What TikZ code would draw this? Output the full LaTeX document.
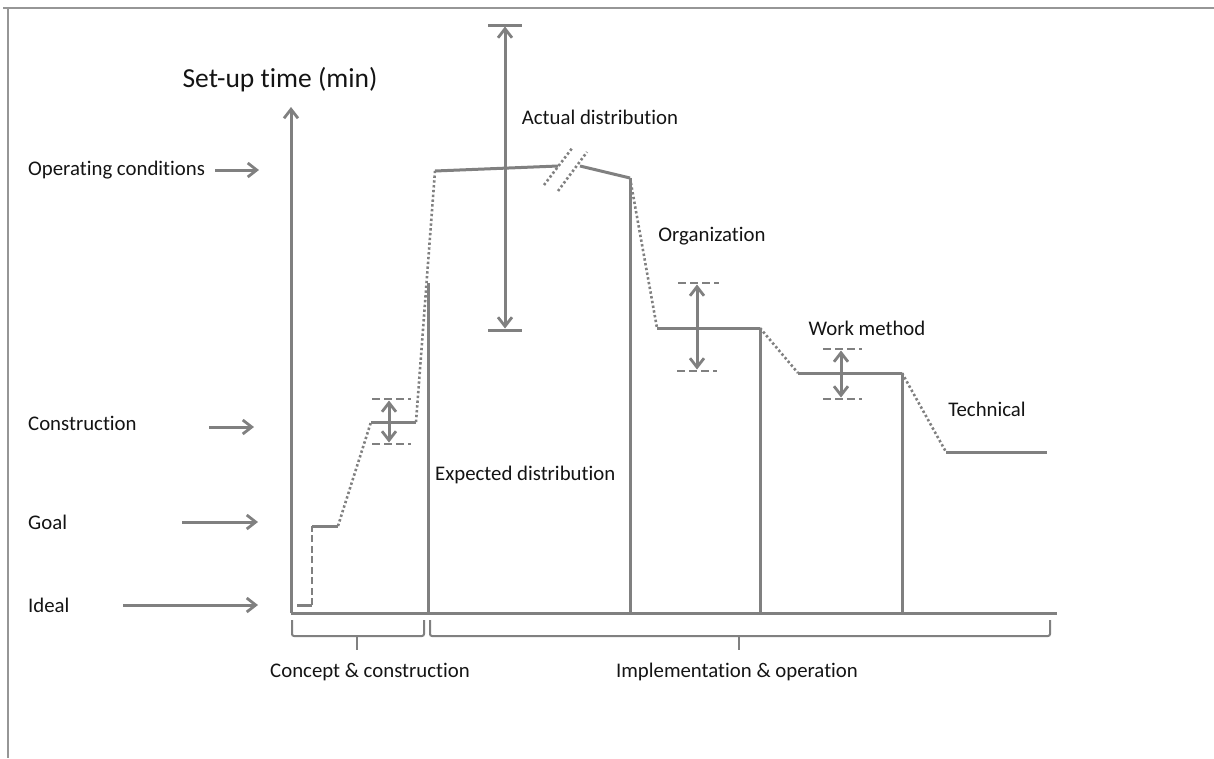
\documentclass[tikz,border=0pt]{standalone}
\usepackage{fontspec}
\setmainfont{Carlito}[Ligatures={NoCommon}]
\usetikzlibrary{arrows.meta}
\definecolor{linegray}{RGB}{128,128,128}
\definecolor{framegray}{RGB}{150,150,150}
\definecolor{textgray}{RGB}{20,20,20}
\begin{document}
\begin{tikzpicture}[x=1pt,y=-1pt,
  line/.style={draw=linegray, line width=3pt},
  dotline/.style={draw=linegray, line width=2.6pt, dash pattern=on 2.4pt off 2.4pt},
  dashline/.style={draw=linegray, line width=2.6pt, dash pattern=on 7pt off 3.5pt},
  barline/.style={draw=linegray, line width=2.6pt, dash pattern=on 8pt off 4pt},
  tipend/.style={-{Straight Barb[length=9pt,width=14pt,line width=2.8pt]}},
  tipboth/.style={{Straight Barb[length=9pt,width=14pt,line width=2.8pt]}-{Straight Barb[length=9pt,width=14pt,line width=2.8pt]}},
  bracket/.style={draw=linegray, line width=2pt, rounded corners=2pt},
  lbl/.style={font=\fontsize{20.8}{23}\selectfont, text=textgray, inner sep=0pt},
]
\useasboundingbox (0,0) rectangle (1214,758);

% outer frame (top and left edges)
\draw[framegray, line width=2pt] (3,8) -- (1214,8);
\draw[framegray, line width=2pt] (8,8) -- (8,758);

% axes
\coordinate (O) at (291,613);
\coordinate (ytop) at (291,107);
\coordinate (xend) at (1057,613);
\draw[line, tipend] (O) -- (ytop);
\draw[line] (O) -- (xend);
\node[lbl, font=\fontsize{27.5}{30}\selectfont] (ylab) at (280,80) {Set-up time (min)};

% level labels with pointers
\node[lbl, anchor=west] (opc) at (28,170) {Operating conditions};
\coordinate (opcA) at (215,170); \coordinate (opcB) at (259,170);
\draw[line, tipend] (opcA) -- (opcB);
\node[lbl, anchor=west] (con) at (28,423) {Construction};
\coordinate (conA) at (209,427); \coordinate (conB) at (254,427);
\draw[line, tipend] (conA) -- (conB);
\node[lbl, anchor=west] (goal) at (28,522) {Goal};
\coordinate (goalA) at (182,522); \coordinate (goalB) at (258,522);
\draw[line, tipend] (goalA) -- (goalB);
\node[lbl, anchor=west] (ideal) at (28,605) {Ideal};
\coordinate (idealA) at (123,605); \coordinate (idealB) at (258,605);
\draw[line, tipend] (idealA) -- (idealB);

% phase boundaries
\draw[line] (428,613) -- (428,283);
\draw[line] (630,613) -- (630,178);
\draw[line] (760,613) -- (760,328);
\draw[line] (902,613) -- (902,373);

% set-up time curve
\coordinate (p1) at (297,605);  \coordinate (p2) at (312,605);
\coordinate (p3) at (312,526);  \coordinate (p4) at (338,526);
\coordinate (p5) at (371,422);  \coordinate (p6) at (416,422);
\coordinate (p7) at (435,171);  \coordinate (p8) at (558,166);
\coordinate (p9) at (580,166);  \coordinate (p10) at (630,178);
\coordinate (p11) at (657,328); \coordinate (p12) at (760,328);
\coordinate (p13) at (798,373); \coordinate (p14) at (902,373);
\coordinate (p15) at (946,452); \coordinate (p16) at (1047,452);
\draw[line] (p1) -- (p2);
\draw[dashline] (p2) -- (p3);
\draw[line] (p3) -- (p4);
\draw[dotline] (p4) -- (p5);
\draw[line] (p5) -- (p6);
\draw[dotline] (p6) -- (p7);
\draw[line] (p7) -- (p8);
\draw[line] (p9) -- (p10);
\draw[dotline] (p10) -- (p11);
\draw[line] (p11) -- (p12);
\draw[dotline] (p12) -- (p13);
\draw[line] (p13) -- (p14);
\draw[dotline] (p14) -- (p15);
\draw[line] (p15) -- (p16);
% axis break marks
\draw[dotline] (544,185) -- (573,147);
\draw[dotline] (558,191) -- (587,152);

% actual distribution range
\coordinate (aT) at (505,25); \coordinate (aB) at (505,330);
\draw[line] (488,25) -- (522,25);
\draw[line] (488,330) -- (522,330);
\draw[line, tipboth] ([yshift=-1.5pt]aT) -- ([yshift=1.5pt]aB);

% construction spread
\coordinate (cT) at (389,399); \coordinate (cB) at (389,444);
\draw[barline] (372,399) -- (411,399);
\draw[barline] (372,444) -- (411,444);
\draw[line, tipboth] ([yshift=-1.5pt]cT) -- ([yshift=1.5pt]cB);

% organization spread
\coordinate (oT) at (697,283); \coordinate (oB) at (697,371);
\draw[barline] (678,283) -- (719,283);
\draw[barline] (677,371) -- (717,371);
\draw[line, tipboth] ([yshift=-1.5pt]oT) -- ([yshift=1.5pt]oB);

% work method spread
\coordinate (wT) at (841,349); \coordinate (wB) at (841,399);
\draw[barline] (823,349) -- (862,349);
\draw[barline] (823,399) -- (862,399);
\draw[line, tipboth] ([yshift=-1.5pt]wT) -- ([yshift=1.5pt]wB);

% region labels
\node[lbl] (actual) at (600,117) {Actual distribution};
\node[lbl] (org) at (712,236) {Organization};
\node[lbl, anchor=west] (expected) at (435,475) {Expected distribution};
\node[lbl] (work) at (867,328) {Work method};
\node[lbl] (tech) at (987,409) {Technical};

% phase brackets
\draw[bracket] (292,620) -- (292,636) -- (424,636) -- (424,620);
\draw[bracket] (357,636) -- (357,650);
\draw[bracket] (430,620) -- (430,636) -- (1050,636) -- (1050,620);
\draw[bracket] (739,636) -- (739,650);
\node[lbl] (ph1) at (370,672) {Concept \& construction};
\node[lbl] (ph2) at (737,672) {Implementation \& operation};
\end{tikzpicture}
\end{document}
